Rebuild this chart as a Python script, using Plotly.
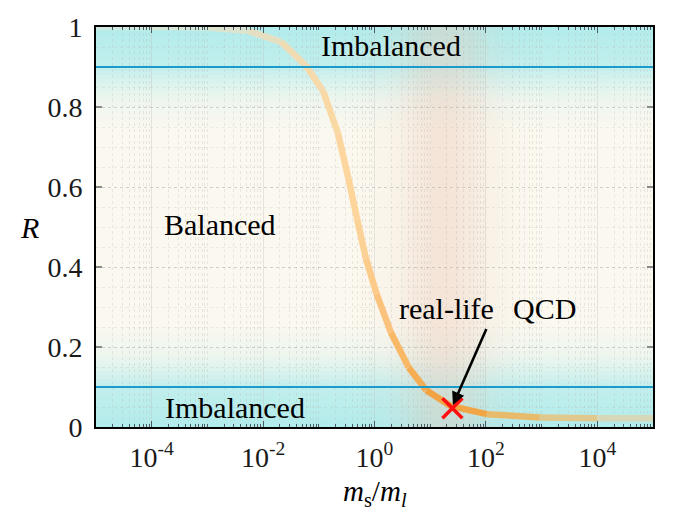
import numpy as np
import plotly.graph_objects as go

# ---------------- data ----------------
ratio_ms_ml = [1e-5, 1e-4, 1e-3, 0.0055, 0.021, 0.058, 0.12, 0.22, 0.34, 0.49, 0.70,
               1.09, 1.96, 4.1, 8.5, 23.8, 104, 930, 1e4, 1e5]
R_values = [1.0, 1.0, 0.999, 0.99, 0.963, 0.904, 0.839, 0.735, 0.622, 0.518, 0.422,
            0.333, 0.237, 0.149, 0.092, 0.052, 0.032, 0.024, 0.022, 0.022]
qcd_x = [25]
qcd_y = [0.047]
threshold_low = 0.1
threshold_high = 0.9
x_tick_vals = [1e-4, 1e-2, 1e0, 1e2, 1e4]
x_tick_text = ["10<sup>-4</sup>", "10<sup>-2</sup>", "10<sup>0</sup>", "10<sup>2</sup>", "10<sup>4</sup>"]
y_tick_vals = [0, 0.2, 0.4, 0.6, 0.8, 1.0]
y_tick_text = ["0", "0.2", "0.4", "0.6", "0.8", "1"]

# ---------------- styling ----------------
SEG_COLORS = ["#cfeae0", "#d4e8da", "#dce4cf", "#e6dfc2", "#efdcb4", "#f6daab",
              "#fad8a3", "#fcd69e", "#fdd49a", "#fcd195", "#fccb8a", "#fac27c",
              "#f8b866", "#f5ad54", "#f2a444", "#f0a646", "#e8bb6c", "#e0c98e", "#d6d8b8"]
FONT = 'Liberation Serif, "DejaVu Serif", serif'
XMIN, XMAX = -5, 5

fig = go.Figure()

shapes = []
# horizontal cyan/cream gradient strips
cyan = np.array([178, 236, 236])
cream = np.array([251, 248, 239])
dk = [0, 0.1, 0.13, 0.18, 0.26, 1]
wk = [1, 0.78, 0.52, 0.18, 0, 0]
n = 100
for i in range(n):
    y0, y1 = i / n, (i + 1) / n
    yc = (y0 + y1) / 2
    d = min(yc, 1 - yc)
    w = np.interp(d, dk, wk)
    c = (w * cyan + (1 - w) * cream).round().astype(int)
    shapes.append(dict(type="rect", xref="paper", yref="y", x0=0, x1=1, y0=y0, y1=y1,
                       fillcolor=f"rgb({c[0]},{c[1]},{c[2]})", line=dict(width=0), layer="below"))
# peach glow column
center, sigma = 1.25, 0.55
steps = np.arange(-0.8, 3.4, 0.05)
for s in steps:
    a = 0.40 * np.exp(-((s + 0.025 - center) ** 2) / (2 * sigma ** 2))
    shapes.append(dict(type="rect", xref="paper", yref="paper",
                       x0=(s - XMIN) / (XMAX - XMIN), x1=(s + 0.05 - XMIN) / (XMAX - XMIN),
                       y0=0, y1=1, fillcolor=f"rgba(234,198,180,{a:.3f})",
                       line=dict(width=0), layer="below"))
# threshold lines
for yv in (threshold_low, threshold_high):
    shapes.append(dict(type="line", xref="paper", yref="y", x0=0, x1=1, y0=yv, y1=yv,
                       line=dict(color="#1a9bcc", width=2), layer="above"))

# curve as colored segments
for i in range(len(ratio_ms_ml) - 1):
    fig.add_trace(go.Scatter(x=ratio_ms_ml[i:i + 2], y=R_values[i:i + 2], mode="lines",
                             line=dict(color=SEG_COLORS[i], width=6.5),
                             hoverinfo="skip", showlegend=False))

fig.add_trace(go.Scatter(x=qcd_x, y=qcd_y, mode="markers",
                         marker=dict(symbol="x-thin", size=20,
                                     line=dict(color="#ff1010", width=3.5)),
                         showlegend=False))

TXT = dict(family=FONT, size=30, color="black")
annotations = [
    dict(x=0.30, y=0.955, xref="x", yref="y", text="Imbalanced", showarrow=False, font=TXT),
    dict(x=-2.77, y=0.506, xref="x", yref="y", text="Balanced", showarrow=False, font=TXT),
    dict(x=-2.50, y=0.048, xref="x", yref="y", text="Imbalanced", showarrow=False, font=TXT),
    dict(x=1.30, y=0.296, xref="x", yref="y", text="real-life", showarrow=False, font=TXT),
    dict(x=3.06, y=0.296, xref="x", yref="y", text="QCD", showarrow=False, font=TXT),
    dict(x=np.log10(qcd_x[0]) + 0.01, y=qcd_y[0] + 0.008, xref="x", yref="y",
         ax=2.02, ay=0.249, axref="x", ayref="y", text="", showarrow=True,
         arrowhead=2, arrowsize=1.0, arrowwidth=2.6, arrowcolor="black", standoff=0),
    dict(x=-0.14, y=0.5, xref="paper", yref="paper", text="<i>R</i>", showarrow=False,
         font=dict(family=FONT, size=30, color="black")),
    dict(x=0.5, y=-0.166, xref="paper", yref="paper", yanchor="middle",
         text="<i>m</i><sub>s</sub>/<i>m</i><sub><i>l</i></sub>", showarrow=False,
         font=dict(family=FONT, size=29, color="black")),
]

fig.update_layout(
    width=673, height=516,
    margin=dict(l=96, r=20, t=12, b=89),
    paper_bgcolor="white", plot_bgcolor="#fbf8ef",
    shapes=shapes, annotations=annotations, showlegend=False,
    font=dict(family=FONT, color="black"),
)

fig.update_xaxes(
    type="log", range=[XMIN, XMAX],
    tickvals=x_tick_vals, ticktext=x_tick_text,
    tickfont=dict(family=FONT, size=28, color="#1a1a1a"),
    ticks="inside", ticklen=6, tickcolor="#4a5a60", tickwidth=1,
    showline=True, linecolor="black", linewidth=2, mirror="ticks",
    showgrid=True, gridcolor="rgba(190,190,185,0.35)", gridwidth=1,
    minor=dict(tickvals=[m * 10.0 ** k for k in range(-5, 5) for m in range(1, 10)
                         if not (m == 1 and k % 2 == 0)],
               ticks="inside", ticklen=3, tickcolor="#4a5a60",
               showgrid=True, gridcolor="rgba(180,180,175,0.28)", griddash="dot"),
    ticklabelstandoff=4, zeroline=False, ticklabeloverflow="allow",
)
fig.update_yaxes(
    range=[0, 1], tickvals=y_tick_vals, ticktext=y_tick_text,
    tickfont=dict(family=FONT, size=28, color="#1a1a1a"),
    ticks="inside", ticklen=6, tickcolor="#888", tickwidth=1.5,
    showline=True, linecolor="black", linewidth=2, mirror="ticks",
    showgrid=True, gridcolor="rgba(170,170,165,0.4)", griddash="dot",
    minor=dict(dtick=0.05, showgrid=True, gridcolor="rgba(180,180,175,0.22)", griddash="dot"),
    ticklabelstandoff=6, zeroline=False, ticklabeloverflow="allow",
)

fig.write_html("out.html")
